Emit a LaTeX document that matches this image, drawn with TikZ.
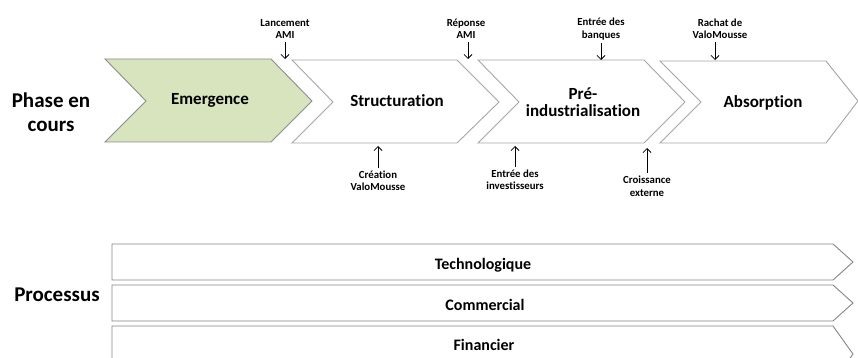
\documentclass[tikz,border=0pt]{standalone}
\usepackage{fontspec}
\setmainfont[Ligatures=NoCommon]{Carlito}
\usetikzlibrary{arrows.meta}
\definecolor{chevgreen}{HTML}{D7E4BD}
\definecolor{chevline}{HTML}{A6A6A6}
\definecolor{greenline}{HTML}{8C8C8C}
\begin{document}
\begin{tikzpicture}[x=1pt,y=-1pt,
  chev/.style={draw=chevline,line width=0.9pt,fill=white,line join=miter},
  chevg/.style={draw=greenline,line width=0.9pt,fill=chevgreen},
  bar/.style={draw=chevline!80!black,line width=0.9pt,fill=white},
  phasetxt/.style={font=\fontsize{17}{17}\selectfont\bfseries,align=center,inner sep=0pt},
  bigtxt/.style={font=\fontsize{21}{24}\selectfont\bfseries,align=center,inner sep=0pt},
  bartxt/.style={font=\fontsize{16}{18}\selectfont\bfseries,inner sep=0pt},
  evt/.style={font=\fontsize{10.8}{12.5}\selectfont\bfseries,align=center,inner sep=0pt},
  arr/.style={-{Straight Barb[length=4pt,width=8pt]},line width=0.8pt,shorten <=3pt}]
\useasboundingbox (0,0) rectangle (858,358);
\clip (0,0) rectangle (858,358);
% phases
\draw[chevg] (105,59) -- (271,59) -- (312,101) -- (271,142) -- (105,142) -- (146,101) -- cycle;
\draw[chev] (292,60) -- (457,60) -- (499,102) -- (457,143) -- (292,143) -- (333,102) -- cycle;
\draw[chev] (478,60) -- (644,60) -- (685,102) -- (644,143) -- (478,143) -- (519,102) -- cycle;
\draw[chev] (660,61) -- (826,61) -- (858,101) -- (826,143) -- (660,143) -- (701,102) -- cycle;
\node[phasetxt] (emer) at (210,100) {Emergence};
\node[phasetxt] (struc) at (397,101) {Structuration};
\node[phasetxt,font=\fontsize{17}{16.5}\selectfont\bfseries] (preind) at (583,102) {Pré-\\industrialisation};
\node[phasetxt] (absor) at (763,103) {Absorption};
\node[bigtxt] (phase) at (51,112) {Phase en\\cours};
% events
\coordinate (c1) at (285,59);
\coordinate (c2) at (468,59);
\coordinate (c3) at (601,60);
\coordinate (c4) at (715,60);
\coordinate (c5) at (378,146);
\coordinate (c6) at (515,146);
\coordinate (c7) at (647,148);
\node[evt] (lanc) at (285,29) {Lancement\\AMI};
\node[evt] (repo) at (466,29) {Réponse\\AMI};
\node[evt] (banq) at (601,29) {Entrée des\\banques};
\node[evt] (rach) at (720,29) {Rachat de\\ValoMousse};
\node[evt] (crea) at (378,181) {Création\\ValoMousse};
\node[evt] (inve) at (515,180) {Entrée des\\investisseurs};
\node[evt] (croi) at (647,186) {Croissance\\externe};
\draw[arr] (lanc.south -| c1) -- (c1);
\draw[arr] (repo.south -| c2) -- (c2);
\draw[arr] (banq.south -| c3) -- (c3);
\draw[arr] (rach.south -| c4) -- (c4);
\draw[arr] (crea.north -| c5) -- (c5);
\draw[arr] (inve.north -| c6) -- (c6);
\draw[arr] (croi.north -| c7) -- (c7);
% processes
\draw[bar] (112,244) -- (833,244) -- (853,262) -- (833,280) -- (112,280) -- cycle;
\draw[bar] (112,285) -- (833,285) -- (853,303) -- (833,321) -- (112,321) -- cycle;
\draw[bar] (112,326) -- (833,326) -- (853,354) -- (833,382) -- (112,382) -- cycle;
\node[bartxt] (tech) at (483,265) {Technologique};
\node[bartxt] (comm) at (485,305) {Commercial};
\node[bartxt] (fina) at (484,345) {Financier};
\node[bigtxt] (proc) at (57,295) {Processus};
\end{tikzpicture}
\end{document}
